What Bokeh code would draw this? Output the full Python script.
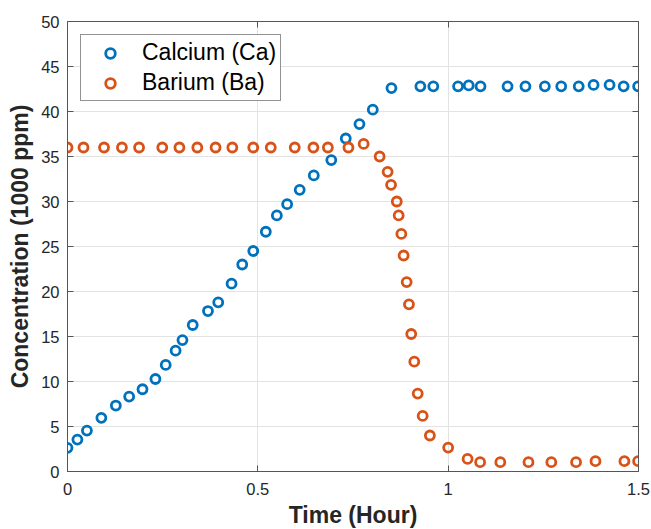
from bokeh.plotting import figure
from bokeh.models import Range1d, FixedTicker, LinearAxis, NumeralTickFormatter, Legend, LegendItem
from bokeh.embed import file_html
from bokeh.resources import INLINE

# Calcium (Ca)
ca_time = [0.000, 0.026, 0.051, 0.089, 0.127, 0.162, 0.197, 0.231, 0.258, 0.284,
           0.302, 0.329, 0.369, 0.396, 0.431, 0.459, 0.488, 0.521, 0.550, 0.577,
           0.610, 0.647, 0.693, 0.731, 0.767, 0.802, 0.851, 0.927, 0.961, 1.026,
           1.054, 1.085, 1.156, 1.203, 1.254, 1.297, 1.343, 1.382, 1.424, 1.461, 1.499]
ca_conc = [2.63, 3.55, 4.55, 5.96, 7.33, 8.32, 9.14, 10.28, 11.84, 13.43,
           14.6, 16.28, 17.83, 18.8, 20.87, 23.0, 24.5, 26.64, 28.45, 29.7,
           31.3, 32.9, 34.6, 37.0, 38.6, 40.2, 42.6, 42.8, 42.8, 42.8,
           42.9, 42.8, 42.8, 42.8, 42.8, 42.8, 42.8, 42.95, 42.95, 42.8, 42.8]

# Barium (Ba)
ba_time = [0.000, 0.042, 0.096, 0.143, 0.188, 0.249, 0.294, 0.341, 0.389, 0.433,
           0.488, 0.534, 0.597, 0.646, 0.684, 0.738, 0.778, 0.820, 0.841, 0.850,
           0.865, 0.870, 0.877, 0.883, 0.891, 0.897, 0.903, 0.911, 0.920, 0.933,
           0.952, 1.000, 1.051, 1.084, 1.137, 1.211, 1.271, 1.336, 1.387, 1.463, 1.499]
ba_conc = [36.0, 36.0, 36.0, 36.0, 36.0, 36.0, 36.0, 36.0, 36.0, 36.0,
           36.0, 36.0, 36.0, 36.0, 36.0, 36.0, 36.4, 35.0, 33.3, 31.85,
           30.0, 28.45, 26.4, 24.0, 21.05, 18.57, 15.28, 12.2, 8.66, 6.18,
           4.0, 2.66, 1.4, 1.04, 1.04, 1.04, 1.04, 1.04, 1.15, 1.15, 1.15]

x_ticks = [0, 0.5, 1.0, 1.5]
y_ticks = [0, 5, 10, 15, 20, 25, 30, 35, 40, 45, 50]

FONT = "Liberation Sans"
AX = "#262626"
BLUE = "#0072BD"
ORANGE = "#D95319"

p = figure(frame_width=571, frame_height=450,
           min_border_left=67, min_border_right=13, min_border_top=21, min_border_bottom=58,
           x_range=Range1d(0, 1.5), y_range=Range1d(0, 50),
           output_backend="svg", toolbar_location=None,
           background_fill_color="white", border_fill_color="white")
p.outline_line_color = None

r_ca = p.scatter(ca_time, ca_conc, marker="circle", size=9, line_width=2.8,
                 line_color=BLUE, fill_color=None)
r_ba = p.scatter(ba_time, ba_conc, marker="circle", size=9, line_width=2.8,
                 line_color=ORANGE, fill_color=None)

def style_axis(ax, labels=True):
    ax.axis_line_color = "#555555"
    ax.axis_line_width = 1
    ax.major_tick_in = 6
    ax.major_tick_out = 0
    ax.major_tick_line_color = "#555555"
    ax.minor_tick_line_color = None
    if labels:
        ax.major_label_text_font = FONT
        ax.major_label_text_font_size = "16.5px"
        ax.major_label_text_color = AX
        ax.axis_label_text_font = FONT
        ax.axis_label_text_font_size = "23px"
        ax.axis_label_text_font_style = "bold"
        ax.axis_label_text_color = AX
    else:
        ax.major_label_text_font_size = "0px"
        ax.major_label_text_color = None
        ax.major_label_standoff = 0
        ax.axis_label = None

xa = p.xaxis[0]
xa.ticker = FixedTicker(ticks=x_ticks)
xa.formatter = NumeralTickFormatter(format="0.[0]")
xa.axis_label = "Time (Hour)"
style_axis(xa)
xa.major_label_standoff = 11
xa.axis_label_standoff = 4

ya = p.yaxis[0]
ya.ticker = FixedTicker(ticks=y_ticks)
ya.axis_label = "Concentration (1000 ppm)"
style_axis(ya)
ya.major_label_standoff = 8
ya.axis_label_standoff = 5

top = LinearAxis(ticker=FixedTicker(ticks=x_ticks))
style_axis(top, labels=False)
p.add_layout(top, "above")
right = LinearAxis(ticker=FixedTicker(ticks=y_ticks))
style_axis(right, labels=False)
p.add_layout(right, "right")

p.xgrid.ticker = FixedTicker(ticks=x_ticks)
p.ygrid.ticker = FixedTicker(ticks=y_ticks)
p.xgrid.grid_line_color = "#e3e3e3"
p.ygrid.grid_line_color = "#e3e3e3"

legend = Legend(items=[LegendItem(label="Calcium (Ca)", renderers=[r_ca]),
                       LegendItem(label="Barium (Ba)", renderers=[r_ba])],
                location="top_left")
legend.margin = 13
legend.padding = 4
legend.spacing = 3
legend.glyph_width = 50
legend.glyph_height = 24
legend.label_height = 24
legend.label_standoff = 7
legend.label_text_font = FONT
legend.label_text_font_size = "23px"
legend.label_text_color = "black"
legend.border_line_color = AX
legend.border_line_width = 1
legend.background_fill_color = "white"
legend.background_fill_alpha = 1
p.add_layout(legend)

open("out.html", "w").write(file_html(p, INLINE))
